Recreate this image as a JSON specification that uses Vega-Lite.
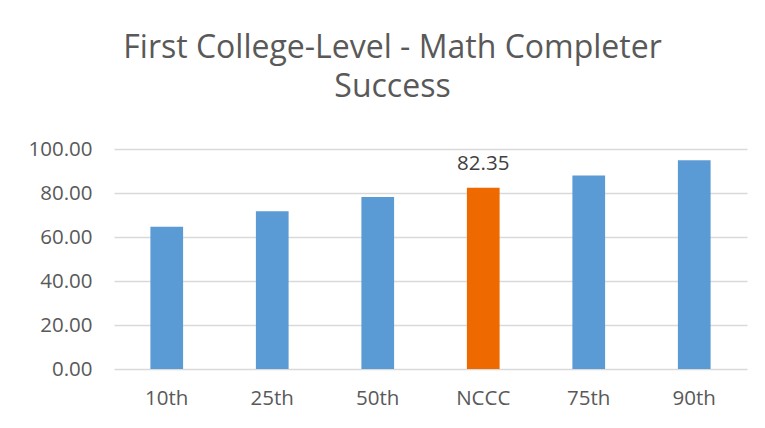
{
  "$schema": "https://vega.github.io/schema/vega-lite/v6.json",
  "autosize": {"type": "none"},
  "padding": {"left": 114, "top": 149, "right": 18, "bottom": 59},
  "width": 633,
  "height": 220,
  "background": "white",
  "title": {
    "text": ["First College-Level - Math Completer", "Success"],
    "font": "Open Sans",
    "fontSize": 32,
    "fontWeight": "normal",
    "color": "#595959",
    "lineHeight": 39,
    "anchor": "middle",
    "dx": -38,
    "offset": 35
  },
  "data": {
    "values": [
      {"category": "10th", "value": 64.7},
      {"category": "25th", "value": 71.7},
      {"category": "50th", "value": 78.2},
      {"category": "NCCC", "value": 82.35},
      {"category": "75th", "value": 87.9},
      {"category": "90th", "value": 94.9}
    ]
  },
  "config": {
    "view": {"stroke": null},
    "axis": {
      "labelFont": "Open Sans",
      "labelFontSize": 20.5,
      "labelColor": "#595959",
      "ticks": false,
      "domain": false,
      "title": null
    }
  },
  "encoding": {
    "x": {
      "field": "category",
      "type": "nominal",
      "sort": null,
      "scale": {"paddingInner": 0.69, "paddingOuter": 0.345},
      "axis": {"labelAngle": 0, "labelPadding": 19, "grid": false}
    },
    "y": {
      "field": "value",
      "type": "quantitative",
      "scale": {"domain": [0, 100], "nice": false},
      "axis": {
        "values": [0, 20, 40, 60, 80, 100],
        "format": ".2f",
        "labelPadding": 22,
        "grid": true,
        "gridColor": "#D9D9D9",
        "gridWidth": 1.5
      }
    }
  },
  "layer": [
    {
      "mark": {"type": "bar"},
      "encoding": {
        "color": {
          "condition": {"test": "datum.category === 'NCCC'", "value": "#EE6A00"},
          "value": "#5B9BD5"
        }
      }
    },
    {
      "transform": [{"filter": "datum.category === 'NCCC'"}],
      "mark": {
        "type": "text",
        "font": "Open Sans",
        "fontSize": 20.5,
        "color": "#404040",
        "baseline": "alphabetic",
        "dy": -18
      },
      "encoding": {
        "text": {"field": "value", "type": "quantitative", "format": ".2f"}
      }
    }
  ]
}
